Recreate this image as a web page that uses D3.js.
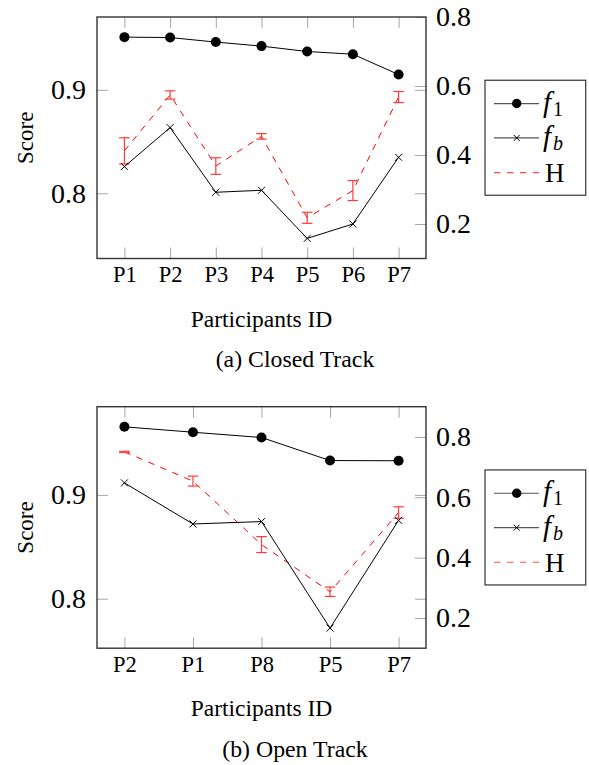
<!DOCTYPE html>
<html>
<head>
<meta charset="utf-8">
<script src="https://cdn.jsdelivr.net/npm/d3@7"></script>
</head>
<body style="margin:0">
<svg width="589" height="765"></svg>
<script>
// (a) closed track
var closedIds = ["P1", "P2", "P3", "P4", "P5", "P6", "P7"];
var closedF1 = [0.951, 0.9506, 0.9462, 0.9423, 0.9371, 0.9345, 0.9148];
var closedFb = [0.8258, 0.8635, 0.801, 0.8029, 0.7564, 0.7703, 0.8348];
var closedH = [0.412, 0.574, 0.368, 0.454, 0.218, 0.297, 0.568];
var closedHErr = [0.038, 0.012, 0.024, 0.008, 0.016, 0.029, 0.016];

// (b) open track
var openIds = ["P2", "P1", "P8", "P5", "P7"];
var openF1 = [0.9656, 0.9604, 0.9553, 0.9331, 0.9329];
var openFb = [0.9116, 0.872, 0.8743, 0.7717, 0.8755];
var openH = [0.7504, 0.6536, 0.4432, 0.287, 0.5495];
var openHErr = [0.002, 0.0165, 0.0264, 0.0155, 0.019];

var leftTicks = [0.8, 0.9];
var rightTicks = [0.2, 0.4, 0.6, 0.8];
var closedRight = [0.1, 0.8];
var openRight = [0.1, 0.9];

var svg = d3.select("svg");

function panel(top, ids, f1, fb, h, hErr, rightDomain, caption) {
   var x0 = 97, x1 = 426, y0 = top, y1 = top + 241.5;
   var g = svg.append("g");

   var n = ids.length;
   var x = d3.scaleLinear()
      .domain([-(n - 1) * 0.1, (n - 1) * 1.1])
      .range([x0, x1]);

   var ext = d3.extent(f1.concat(fb));
   var pad = (ext[1] - ext[0]) * 0.1;
   var yL = d3.scaleLinear().domain([ext[0] - pad, ext[1] + pad]).range([y1, y0]);
   var yR = d3.scaleLinear().domain(rightDomain).range([y1, y0]);

   var tickCol = "#a6a6a6";

   // x ticks, bottom and mirrored on top
   var xb = g.append("g").attr("transform", "translate(0," + y1 + ")")
      .call(d3.axisBottom(x).tickValues(d3.range(n)).tickSize(-11).tickPadding(7.5)
         .tickFormat(function(i) { return ids[i]; }));
   xb.select(".domain").remove();
   xb.selectAll("line").attr("stroke", tickCol);
   xb.selectAll("text").attr("font-size", 22.5).attr("dy", "0.72em");

   var xt = g.append("g").attr("transform", "translate(0," + y0 + ")")
      .call(d3.axisTop(x).tickValues(d3.range(n)).tickSize(-11).tickFormat(""));
   xt.select(".domain").remove();
   xt.selectAll("line").attr("stroke", tickCol);

   // left axis
   var yl = g.append("g").attr("transform", "translate(" + x0 + ",0)")
      .call(d3.axisLeft(yL).tickValues(leftTicks).tickSize(-11).tickPadding(11)
         .tickFormat(d3.format(".1f")));
   yl.select(".domain").remove();
   yl.selectAll("line").attr("stroke", tickCol);
   yl.selectAll("text").attr("font-size", 28);

   var ylm = g.append("g").attr("transform", "translate(" + x1 + ",0)")
      .call(d3.axisRight(yL).tickValues(leftTicks).tickSize(-11).tickFormat(""));
   ylm.select(".domain").remove();
   ylm.selectAll("line").attr("stroke", tickCol);

   // right axis
   var yr = g.append("g").attr("transform", "translate(" + x1 + ",0)")
      .call(d3.axisRight(yR).tickValues(rightTicks).tickSize(-11).tickPadding(10)
         .tickFormat(d3.format(".1f")));
   yr.select(".domain").remove();
   yr.selectAll("line").attr("stroke", tickCol);
   yr.selectAll("text").attr("font-size", 28);

   // frame
   g.append("rect")
      .attr("x", x0).attr("y", y0)
      .attr("width", x1 - x0).attr("height", y1 - y0)
      .attr("fill", "none").attr("stroke", "#333").attr("stroke-width", 1.4);

   var lineL = d3.line().x(function(d, i) { return x(i); }).y(function(d) { return yL(d); });
   var lineR = d3.line().x(function(d, i) { return x(i); }).y(function(d) { return yR(d); });

   // H (right axis)
   g.append("path").attr("d", lineR(h))
      .attr("fill", "none").attr("stroke", "#ff0000").attr("stroke-width", 1)
      .attr("stroke-dasharray", "6.5,6.5");

   var eb = g.selectAll(".eb").data(h).enter().append("g").attr("class", "eb")
      .attr("stroke", "#ff3b3b").attr("stroke-width", 1.2);
   eb.append("line")
      .attr("x1", function(d, i) { return x(i); })
      .attr("x2", function(d, i) { return x(i); })
      .attr("y1", function(d, i) { return yR(d - hErr[i]); })
      .attr("y2", function(d, i) { return yR(d + hErr[i]); });
   eb.append("line")
      .attr("x1", function(d, i) { return x(i) - 5.3; })
      .attr("x2", function(d, i) { return x(i) + 5.3; })
      .attr("y1", function(d, i) { return yR(d - hErr[i]); })
      .attr("y2", function(d, i) { return yR(d - hErr[i]); });
   eb.append("line")
      .attr("x1", function(d, i) { return x(i) - 5.3; })
      .attr("x2", function(d, i) { return x(i) + 5.3; })
      .attr("y1", function(d, i) { return yR(d + hErr[i]); })
      .attr("y2", function(d, i) { return yR(d + hErr[i]); });

   // fb
   g.append("path").attr("d", lineL(fb))
      .attr("fill", "none").attr("stroke", "#000").attr("stroke-width", 1);
   g.selectAll(".xm").data(fb).enter().append("path").attr("class", "xm")
      .attr("transform", function(d, i) { return "translate(" + x(i) + "," + yL(d) + ")"; })
      .attr("d", "M-3.5,-3.5L3.5,3.5M-3.5,3.5L3.5,-3.5")
      .attr("stroke", "#000").attr("stroke-width", 1);

   // f1
   g.append("path").attr("d", lineL(f1))
      .attr("fill", "none").attr("stroke", "#000").attr("stroke-width", 1);
   g.selectAll(".dot").data(f1).enter().append("circle").attr("class", "dot")
      .attr("cx", function(d, i) { return x(i); })
      .attr("cy", function(d) { return yL(d); })
      .attr("r", 5).attr("fill", "#000");

   // labels
   g.append("text")
      .attr("transform", "translate(33," + (y0 + y1) / 2 + ") rotate(-90)")
      .attr("text-anchor", "middle").attr("font-size", 23).text("Score");
   g.append("text")
      .attr("x", (x0 + x1) / 2).attr("y", y1 + 68)
      .attr("text-anchor", "middle").attr("font-size", 23.5).text("Participants ID");
   g.append("text")
      .attr("x", 295).attr("y", y1 + 108.5)
      .attr("text-anchor", "middle").attr("font-size", 23.8).text(caption);

   // legend
   var ly = (y0 + y1) / 2 - 57.5;
   var lg = g.append("g").attr("transform", "translate(485," + ly + ")");
   lg.append("rect").attr("width", 100.7).attr("height", 115)
      .attr("fill", "#fff").attr("stroke", "#333").attr("stroke-width", 1.2);
   var rows = [23.3, 57.7, 92.3];
   lg.append("line").attr("x1", 9).attr("x2", 54).attr("y1", rows[0]).attr("y2", rows[0])
      .attr("stroke", "#555").attr("stroke-width", 1.2);
   lg.append("circle").attr("cx", 31.7).attr("cy", rows[0]).attr("r", 4.7).attr("fill", "#000");
   lg.append("line").attr("x1", 9).attr("x2", 54).attr("y1", rows[1]).attr("y2", rows[1])
      .attr("stroke", "#555").attr("stroke-width", 1.2);
   lg.append("path").attr("transform", "translate(31.7," + rows[1] + ")")
      .attr("d", "M-3,-3L3,3M-3,3L3,-3").attr("stroke", "#000").attr("stroke-width", 1);
   lg.append("line").attr("x1", 9).attr("x2", 54).attr("y1", rows[2]).attr("y2", rows[2])
      .attr("stroke", "#ff5050").attr("stroke-width", 1.2).attr("stroke-dasharray", "6.5,6.5");

   var t1 = lg.append("text").attr("x", 58).attr("y", rows[0] + 8).attr("font-size", 29);
   t1.append("tspan").attr("font-style", "italic").text("f");
   t1.append("tspan").attr("font-size", 20).attr("dy", 4).attr("dx", 2).text("1");
   var t2 = lg.append("text").attr("x", 58).attr("y", rows[1] + 8).attr("font-size", 29);
   t2.append("tspan").attr("font-style", "italic").text("f");
   t2.append("tspan").attr("font-size", 20).attr("font-style", "italic").attr("dy", 4).attr("dx", 2).text("b");
   lg.append("text").attr("x", 60).attr("y", rows[2] + 9.5).attr("font-size", 27).text("H");
}

panel(17, closedIds, closedF1, closedFb, closedH, closedHErr, closedRight, "(a) Closed Track");
panel(406.7, openIds, openF1, openFb, openH, openHErr, openRight, "(b) Open Track");

// serif everywhere, set on the text nodes themselves
svg.selectAll("text").attr("font-family", "Liberation Serif").attr("fill", "#000");
</script>
</body>
</html>
